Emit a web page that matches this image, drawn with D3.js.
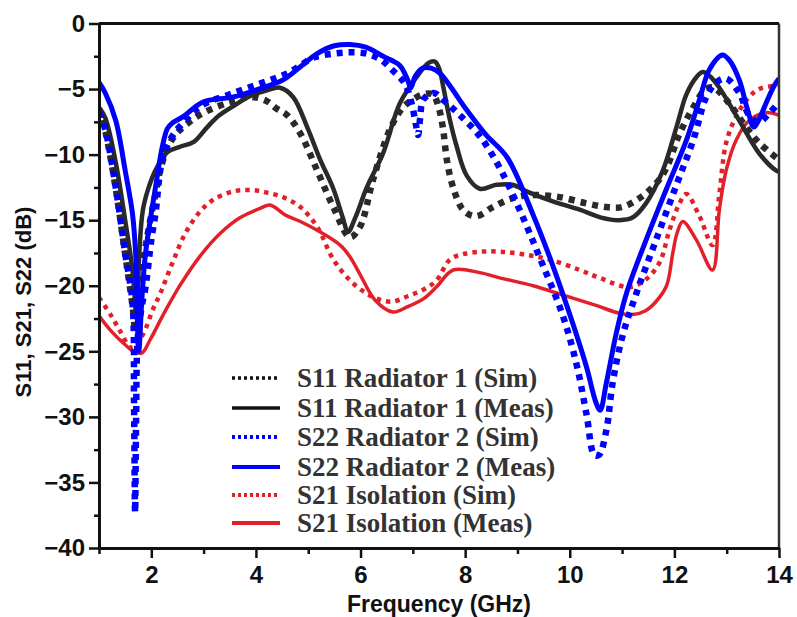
<!DOCTYPE html>
<html><head><meta charset="utf-8">
<script src="https://cdn.jsdelivr.net/npm/d3@7"></script>
<style>body{margin:0;background:#fff}</style>
</head><body><svg id="c" width="797" height="617"></svg>
<script>
const xTicks=[2,4,6,8,10,12,14];
const yTicks=[0,-5,-10,-15,-20,-25,-30,-35,-40];
const seriesNames=["S11 Radiator 1 (Sim)","S11 Radiator 1 (Meas)","S22 Radiator 2 (Sim)","S22 Radiator 2 (Meas)","S21 Isolation (Sim)","S21 Isolation (Meas)"];
const s11Sim=[[1.0,-6.5],[1.12,-8.2],[1.32,-12.6],[1.5,-17.6],[1.64,-21.5],[1.7,-23.5],[1.76,-21],[1.89,-17],[2.08,-13],[2.21,-10.6],[2.42,-8.7],[2.7,-7.6],[3.0,-6.8],[3.5,-6.0],[3.89,-5.6],[4.2,-5.9],[4.4,-6.5],[4.6,-7.0],[4.85,-8.4],[5.17,-11.2],[5.48,-14.0],[5.8,-16.3],[5.99,-15.5],[6.24,-11.9],[6.56,-8.1],[6.81,-6.4],[7.0,-5.8],[7.2,-5.4],[7.38,-5.4],[7.5,-6.5],[7.58,-8.1],[7.65,-10.4],[7.77,-12.5],[7.96,-14.2],[8.2,-14.7],[8.53,-14.0],[8.85,-13.4],[9.2,-13.1],[9.75,-13.2],[10.3,-13.7],[10.7,-14.0],[11.0,-14.0],[11.34,-13.3],[11.65,-12.2],[11.85,-11.0],[12.1,-8.4],[12.36,-6.4],[12.6,-5.0],[12.75,-4.9],[12.99,-5.8],[13.37,-7.9],[13.62,-9.1],[14.0,-10.4]];
const s11Meas=[[1.0,-6.4],[1.12,-7.2],[1.32,-10.6],[1.5,-15.0],[1.64,-18.8],[1.72,-22.5],[1.77,-17.5],[1.84,-14.2],[1.95,-12.5],[2.08,-11.2],[2.31,-9.8],[2.55,-9.4],[2.82,-9.0],[3.07,-7.9],[3.3,-7.0],[3.57,-6.3],[3.9,-5.5],[4.21,-5.1],[4.46,-4.9],[4.71,-5.6],[4.98,-7.9],[5.23,-10.4],[5.48,-12.6],[5.66,-14.8],[5.76,-15.9],[5.9,-14.8],[6.12,-12.5],[6.43,-9.9],[6.75,-6.1],[7.07,-4.1],[7.3,-3.0],[7.42,-2.9],[7.5,-3.4],[7.58,-4.8],[7.7,-7.2],[7.84,-9.4],[8.03,-11.6],[8.28,-12.6],[8.6,-12.3],[8.9,-12.3],[9.23,-12.9],[9.7,-13.6],[10.19,-14.2],[10.6,-14.8],[10.95,-15.0],[11.2,-14.8],[11.46,-13.7],[11.77,-11.3],[12.04,-7.9],[12.23,-5.4],[12.42,-4.1],[12.54,-3.7],[12.7,-4.1],[12.86,-4.9],[13.24,-7.4],[13.62,-9.9],[13.94,-11.2],[14.0,-11.3]];
const s22Sim=[[1.0,-6.8],[1.12,-8.1],[1.32,-12.5],[1.5,-17.5],[1.64,-21.3],[1.67,-29],[1.69,-37.3],[1.71,-30],[1.74,-24],[1.82,-21.5],[1.89,-20.1],[2.0,-16.5],[2.08,-14.5],[2.21,-10.4],[2.4,-8.6],[2.65,-7.4],[2.94,-6.3],[3.57,-5.3],[4.21,-4.4],[4.6,-3.8],[4.85,-3.2],[5.1,-2.6],[5.48,-2.3],[5.8,-2.2],[6.12,-2.3],[6.4,-2.8],[6.62,-3.6],[6.85,-4.6],[6.97,-6.0],[7.05,-7.5],[7.1,-8.5],[7.14,-7.2],[7.2,-5.8],[7.4,-5.3],[7.6,-5.9],[7.9,-7.0],[8.28,-8.6],[8.66,-11.0],[9.04,-14.2],[9.42,-17.8],[9.86,-22.2],[10.13,-26.0],[10.32,-29.8],[10.47,-32.9],[10.56,-32.9],[10.7,-31.0],[10.82,-27.4],[11.01,-23.8],[11.28,-20.5],[11.65,-16.5],[12.04,-12.3],[12.36,-8.9],[12.61,-5.6],[12.8,-4.5],[12.99,-4.2],[13.24,-5.3],[13.43,-7.0],[13.62,-7.5],[13.8,-6.9],[14.0,-6.0]];
const s22Meas=[[1.0,-4.5],[1.12,-5.3],[1.32,-7.4],[1.5,-11.2],[1.64,-14.5],[1.7,-17.5],[1.76,-25],[1.82,-21],[1.89,-17.5],[2.08,-12.5],[2.21,-9.4],[2.31,-8.0],[2.4,-7.6],[2.61,-7.1],[2.98,-6.0],[3.57,-5.6],[4.2,-4.8],[4.52,-4.3],[4.85,-3.3],[5.17,-2.3],[5.5,-1.7],[5.8,-1.6],[6.1,-1.8],[6.43,-2.5],[6.75,-3.2],[6.9,-4.3],[6.96,-4.9],[7.05,-4.0],[7.19,-3.4],[7.35,-3.4],[7.52,-3.8],[8.03,-6.6],[8.4,-8.5],[8.8,-10.2],[9.3,-14.6],[9.67,-18.4],[10.06,-22.9],[10.32,-26.2],[10.5,-28.9],[10.58,-29.5],[10.7,-27.4],[10.89,-23.6],[11.09,-20.5],[11.46,-16.5],[11.85,-12.6],[12.23,-8.9],[12.48,-5.8],[12.67,-3.5],[12.92,-2.4],[13.05,-2.8],[13.24,-4.3],[13.4,-6.6],[13.52,-7.9],[13.62,-7.3],[13.75,-6.1],[13.9,-4.8],[14.0,-4.2]];
const s21Sim=[[1.0,-20.9],[1.22,-22.2],[1.41,-23.5],[1.6,-24.7],[1.7,-24.6],[1.8,-24.0],[1.9,-23.2],[2.02,-21.9],[2.17,-20.6],[2.4,-18.3],[2.65,-16.0],[2.94,-14.3],[3.2,-13.4],[3.57,-12.8],[3.9,-12.7],[4.21,-12.9],[4.55,-13.3],[4.85,-14.0],[5.17,-15.5],[5.48,-18.0],[5.8,-19.6],[6.12,-20.6],[6.4,-21.1],[6.62,-21.2],[6.9,-20.8],[7.2,-20.3],[7.45,-19.6],[7.71,-18.0],[7.95,-17.6],[8.3,-17.4],[8.66,-17.4],[9.1,-17.6],[9.61,-18.0],[10.19,-18.8],[10.57,-19.4],[11.14,-20.1],[11.46,-19.5],[11.72,-18.2],[11.91,-15.7],[12.1,-13.7],[12.23,-13.0],[12.48,-14.7],[12.73,-16.9],[12.86,-13.0],[12.99,-9.1],[13.18,-7.1],[13.43,-5.6],[13.62,-5.0],[14.0,-4.7]];
const s21Meas=[[1.0,-22.3],[1.22,-23.4],[1.5,-24.5],[1.7,-25.1],[1.83,-25.1],[1.98,-24.1],[2.27,-21.9],[2.56,-19.9],[2.94,-17.7],[3.32,-16.0],[3.7,-14.8],[4.08,-14.1],[4.27,-13.85],[4.56,-14.6],[4.85,-15.1],[5.23,-15.9],[5.61,-16.9],[5.8,-17.8],[6.0,-19.2],[6.28,-21.1],[6.62,-22.0],[6.9,-21.6],[7.2,-21.0],[7.45,-20.1],[7.77,-18.8],[8.28,-19.0],[8.66,-19.4],[9.3,-20.0],[9.86,-20.7],[10.5,-21.5],[10.95,-22.1],[11.2,-22.2],[11.45,-21.9],[11.65,-21.2],[11.85,-20.0],[11.97,-17.5],[12.05,-16.0],[12.16,-15.1],[12.42,-16.5],[12.73,-18.8],[12.86,-14.2],[12.99,-11.2],[13.18,-8.9],[13.43,-7.4],[13.75,-6.8],[14.0,-7.0]];

const svg=d3.select("#c");
const L=99,R=779,T=23.5,B=548;
const x=d3.scaleLinear().domain([1,14]).range([L,R]);
const y=d3.scaleLinear().domain([-40,0]).range([B,T]);
const black="#2a2a2a",blue="#0000ff",red="#e3202a";
const styles=[
 {data:s21Sim,color:red,w:4.5,dash:"4.5,5"},
 {data:s21Meas,color:red,w:3.5,dash:null},
 {data:s11Sim,color:black,w:6.5,dash:"6,6"},
 {data:s11Meas,color:black,w:4.5,dash:null},
 {data:s22Sim,color:blue,w:6.5,dash:"6,6"},
 {data:s22Meas,color:blue,w:5,dash:null}
];
svg.append("defs").append("clipPath").attr("id","clip").append("rect")
 .attr("x",L).attr("y",T).attr("width",R-L).attr("height",B-T);
const line=d3.line().x(d=>x(d[0])).y(d=>y(d[1])).curve(d3.curveCatmullRom.alpha(0.5));
const g=svg.append("g").attr("clip-path","url(#clip)");
styles.forEach(s=>{
 g.append("path").datum(s.data).attr("d",line).attr("fill","none")
  .attr("stroke",s.color).attr("stroke-width",s.w)
  .attr("stroke-dasharray",s.dash).attr("stroke-linejoin","round");
});
svg.append("line").attr("x1",L).attr("x2",R).attr("y1",T).attr("y2",T).attr("stroke","#111").attr("stroke-width",3);
svg.append("line").attr("x1",R).attr("x2",R).attr("y1",T).attr("y2",B).attr("stroke","#333").attr("stroke-width",2.5);
const xAxis=d3.axisBottom(x).tickValues(xTicks).tickFormat(d3.format("d")).tickSize(10).tickSizeOuter(0).tickPadding(8);
const xMinor=d3.axisBottom(x).tickValues(d3.range(1,15,1).filter(v=>v%2===1)).tickFormat("").tickSize(6).tickSizeOuter(0);
const yAxis=d3.axisLeft(y).tickValues(yTicks).tickFormat(d3.format("d")).tickSize(10).tickSizeOuter(0).tickPadding(4);
const yMinor=d3.axisLeft(y).tickValues(d3.range(-37.5,0,5)).tickFormat("").tickSize(5).tickSizeOuter(0);
function styleAx(sel){
 sel.selectAll("path").attr("stroke","#111").attr("stroke-width",3);
 sel.selectAll("line").attr("stroke","#111").attr("stroke-width",2.5);
 sel.selectAll("text").attr("font-family","'Liberation Sans',Arial,sans-serif").attr("font-weight","bold").attr("font-size",24).attr("fill","#111");
}
svg.append("g").attr("transform",`translate(0,${B})`).call(xMinor).call(styleAx);
svg.append("g").attr("transform",`translate(0,${B})`).call(xAxis).call(styleAx);
svg.append("g").attr("transform",`translate(${L},0)`).call(yMinor).call(styleAx);
svg.append("g").attr("transform",`translate(${L},0)`).call(yAxis).call(styleAx);
svg.append("text").attr("x",439).attr("y",612).attr("text-anchor","middle")
 .attr("font-family","'Liberation Sans',Arial,sans-serif").attr("font-weight","bold").attr("font-size",23).attr("fill","#111").text("Frequency (GHz)");
svg.append("text").attr("transform","translate(31,302) rotate(-90)").attr("text-anchor","middle")
 .attr("font-family","'Liberation Sans',Arial,sans-serif").attr("font-weight","bold").attr("font-size",22).attr("fill","#111").text("S11, S21, S22 (dB)");
const legY=[378,408,437,467,495,523];
const legStyle=[
 {color:"#111",w:3.5,dash:"3,3"},
 {color:"#111",w:3.5,dash:null},
 {color:blue,w:4,dash:"3,3"},
 {color:blue,w:4,dash:null},
 {color:red,w:4,dash:"3,3"},
 {color:red,w:4,dash:null}
];
const lg=svg.append("g");
seriesNames.forEach((n,i)=>{
 lg.append("line").attr("x1",232).attr("x2",280).attr("y1",legY[i]).attr("y2",legY[i])
  .attr("stroke",legStyle[i].color).attr("stroke-width",legStyle[i].w).attr("stroke-dasharray",legStyle[i].dash);
 lg.append("text").attr("x",297).attr("y",legY[i]+9).attr("font-family","'Liberation Serif','Times New Roman',serif")
  .attr("font-weight","bold").attr("font-size",27).attr("fill","#333").text(n);
});
</script></body></html>
